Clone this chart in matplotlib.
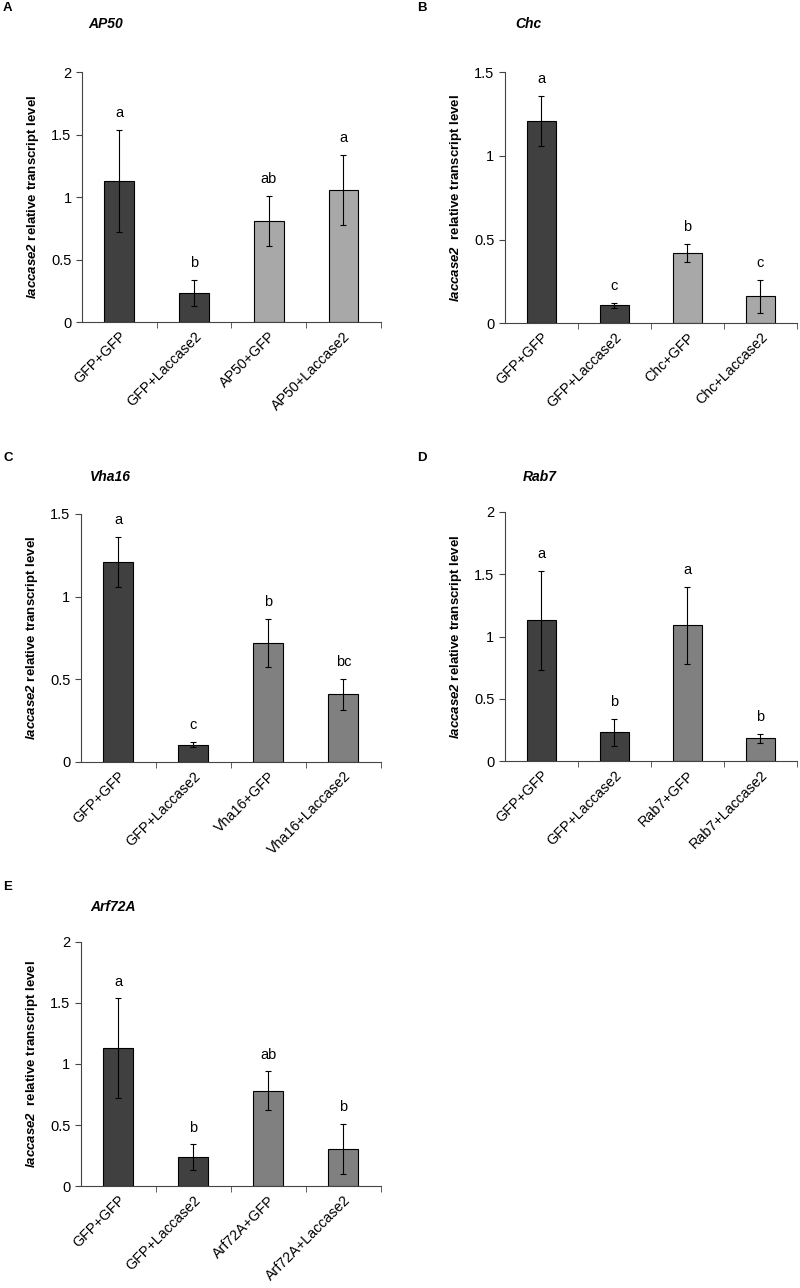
#!/usr/bin/env python3
"""Five-panel bar chart of laccase2 relative transcript levels."""

import matplotlib
matplotlib.use("Agg")
import matplotlib.pyplot as plt

plt.rcParams["font.family"] = ["Liberation Sans", "DejaVu Sans"]
plt.rcParams["mathtext.fontset"] = "custom"
plt.rcParams["mathtext.rm"] = "Liberation Sans:bold"
plt.rcParams["mathtext.bfit"] = "Liberation Sans:italic:bold"

# panel data
genes = ["AP50", "Chc", "Vha16", "Rab7", "Arf72A"]
panel_letters = ["A", "B", "C", "D", "E"]
label_gaps = ["", " ", "", "", " "]

means_ap50 = [1.13, 0.23, 0.81, 1.06]
errs_ap50 = [0.41, 0.105, 0.20, 0.28]
sig_ap50 = ["a", "b", "ab", "a"]

means_chc = [1.21, 0.108, 0.42, 0.16]
errs_chc = [0.15, 0.016, 0.055, 0.10]
sig_chc = ["a", "c", "b", "c"]

means_vha16 = [1.21, 0.105, 0.72, 0.41]
errs_vha16 = [0.15, 0.016, 0.147, 0.093]
sig_vha16 = ["a", "c", "b", "bc"]

means_rab7 = [1.13, 0.233, 1.09, 0.185]
errs_rab7 = [0.40, 0.107, 0.31, 0.037]
sig_rab7 = ["a", "b", "a", "b"]

means_arf = [1.13, 0.237, 0.78, 0.305]
errs_arf = [0.405, 0.105, 0.16, 0.205]
sig_arf = ["a", "b", "ab", "b"]

y_max = [2, 1.5, 1.5, 2, 2]

DARK = "#404040"
LIGHT = "#a8a8a8"
MID = "#808080"

H = 1288.0


def draw_panel(fig, rect, gene, means, errs, sig, ymax, color, gap):
    ax = fig.add_axes(rect)
    cats = ["GFP+GFP", "GFP+Laccase2", f"{gene}+GFP", f"{gene}+Laccase2"]
    xs = list(range(len(cats)))
    colors = [DARK, DARK, color, color]
    ax.bar(xs, means, width=0.4, color=colors, edgecolor="black", linewidth=0.8,
           yerr=errs, error_kw=dict(ecolor="black", elinewidth=0.8, capsize=2.5, capthick=0.8))
    for x, m, e, s in zip(xs, means, errs, sig):
        ax.annotate(s, (x, m + e), xytext=(0, 7), textcoords="offset points",
                    ha="center", va="bottom", fontsize=10.5)
    ax.set_xlim(-0.5, 3.5)
    ax.set_ylim(0, ymax)
    ax.set_yticks([i * 0.5 for i in range(int(ymax / 0.5) + 1)])
    ax.set_yticklabels([f"{t:g}" for t in ax.get_yticks()])
    ax.set_xticks(xs)
    ax.set_xticklabels(cats, rotation=45, ha="right", va="top", rotation_mode="anchor",
                       fontsize=10.3)
    ax.set_xticks([0.5, 1.5, 2.5, 3.5], minor=True)
    ax.tick_params(axis="x", which="major", length=0, pad=5)
    ax.tick_params(axis="x", which="minor", length=4, direction="out", color="#444444")
    ax.tick_params(axis="y", length=4, direction="out", labelsize=10.5, color="#444444")
    for side in ["top", "right"]:
        ax.spines[side].set_visible(False)
    for side in ["left", "bottom"]:
        ax.spines[side].set_color("#444444")
        ax.spines[side].set_linewidth(0.8)
    ax.set_ylabel(r"$\mathbfit{laccase2}$ " + gap + "relative transcript level",
                  fontsize=9.5, fontweight="bold", labelpad=7)
    return ax


def main():
    fig = plt.figure(figsize=(8, 12.88), dpi=100)
    rects = [
        [0.1025, 0.750, 0.3735, 0.194],
        [0.631, 0.749, 0.365, 0.195],
        [0.101, 0.4084, 0.375, 0.1926],
        [0.631, 0.409, 0.365, 0.1935],
        [0.101, 0.0790, 0.375, 0.1900],
    ]
    # panel letter and title anchors in pixels (x, y from top)
    letter_pos = [(3, 8), (417, 8), (3, 458), (417, 458), (3, 887)]
    title_pos = [(88, 24), (515, 24), (90, 477), (523, 477), (90, 907)]
    all_means = [means_ap50, means_chc, means_vha16, means_rab7, means_arf]
    all_errs = [errs_ap50, errs_chc, errs_vha16, errs_rab7, errs_arf]
    all_sig = [sig_ap50, sig_chc, sig_vha16, sig_rab7, sig_arf]
    colors = [LIGHT, LIGHT, MID, MID, MID]
    for i in range(5):
        draw_panel(fig, rects[i], genes[i], all_means[i], all_errs[i],
                   all_sig[i], y_max[i], colors[i], label_gaps[i])
        lx, ly = letter_pos[i]
        fig.text(lx / 800, 1 - ly / H, panel_letters[i], fontsize=9.5,
                 fontweight="bold", ha="left", va="center")
        tx, ty = title_pos[i]
        fig.text(tx / 800, 1 - ty / H, genes[i], fontsize=10,
                 fontweight="bold", fontstyle="italic", ha="left", va="center")
    fig.savefig("out.png", dpi=100)


if __name__ == "__main__":
    main()
